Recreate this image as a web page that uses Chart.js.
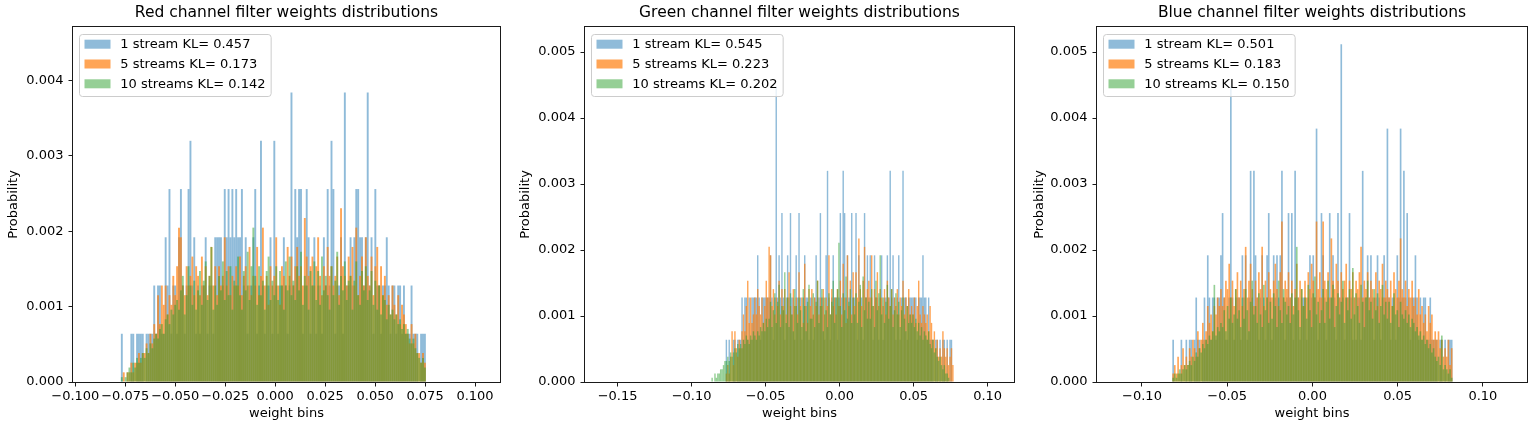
<!DOCTYPE html>
<html>
<head>
<meta charset="utf-8">
<title>Filter weights distributions</title>
<script src="https://cdn.jsdelivr.net/npm/chart.js"></script>
<style>
  html, body { margin: 0; padding: 0; background: #fff; }
  #figure { position: relative; width: 1535px; height: 425px; }
  #figure canvas { position: absolute; top: 0; }
</style>
</head>
<body>
<div id="figure">
  <canvas id="red" width="512" height="425" style="left:0px"></canvas>
  <canvas id="green" width="512" height="425" style="left:512px"></canvas>
  <canvas id="blue" width="512" height="425" style="left:1023px"></canvas>
</div>
<script>
// Probability carried by one weight in a bin, for 1, 5 and 10 streams
const countWeight = [0.00064, 0.000128, 0.000064];
const seriesColors = ['rgba(31,119,180,0.5)', 'rgba(255,127,14,0.7)', 'rgba(44,160,44,0.5)'];

//
// RED CHANNEL
//
const redRange = [-0.0772, 0.0754];
const redXLim = [-0.10115, 0.1125];
const redYMax = 0.00471;
const redLabels = ['1 stream KL= 0.457', '5 streams KL= 0.173', '10 streams KL= 0.142'];
const red1 = [1,0,0,0,0,1,1,0,1,1, 1,1,0,1,1,1,1,2,1,2, 2,1,1,3,2,4,1,2,2,1, 3,4,2,1,2,4,5,2,3,1,
  2,1,2,2,3,1,2,2,1,3, 3,3,3,2,4,3,4,3,4,3, 4,3,3,4,2,3,1,2,2,3, 4,1,2,5,2,1,2,2,3,1,
  5,2,1,2,2,3,2,1,2,6, 2,4,3,4,4,1,2,4,3,1, 2,3,1,2,2,1,3,2,4,2, 5,4,1,2,2,3,1,6,2,2,
  3,2,3,4,4,3,3,2,3,6, 2,3,1,4,2,2,1,2,2,3, 2,1,2,2,1,2,2,1,2,1, 1,1,2,1,1,1,0,1,1,1];
const red5 = [0,1,0,1,1,2,1,2,2,3, 2,3,3,4,3,5,4,6,5,9, 6,10,8,10,7,9,8,11,9,12, 16,15,10,9,12,10,11,13,9,12,
  11,9,13,10,12,9,11,14,10,12, 9,12,10,11,15,10,12,9,11,10, 12,10,13,9,11,12,10,14,9,11, 10,14,9,11,16,10,11,8,12,10,
  11,15,10,8,12,11,10,14,11,13, 10,12,14,11,12,10,17,13,11,12, 13,10,12,15,11,9,12,10,14,11, 12,10,11,13,9,18,12,11,10,13,
  11,14,10,16,9,11,13,10,15,11, 10,13,9,12,14,10,12,9,11,8, 9,7,10,8,7,9,6,8,7,6, 5,4,6,4,5,3,3,2,3,2];
const red10 = [1,0,1,2,3,2,4,3,5,4, 5,6,5,7,6,8,7,9,10,9, 11,12,10,13,14,12,15,14,16,17, 15,19,22,14,18,24,20,16,21,15,
  19,23,16,21,25,17,22,28,15,20, 16,22,19,25,17,23,18,24,15,21, 20,26,18,15,23,19,27,17,24,32, 22,16,24,18,21,15,23,26,17,21,
  18,24,17,23,20,15,25,19,26,18, 21,17,24,19,27,16,22,20,15,23, 20,25,17,23,16,26,19,22,18,15, 24,18,21,27,16,22,19,25,17,21,
  22,15,21,25,18,16,23,19,24,17, 19,23,16,21,15,20,14,18,17,13, 16,14,15,13,14,12,13,11,12,10, 11,9,8,9,7,6,5,4,5,3];

//
// GREEN CHANNEL
//
const greenRange = [-0.0866, 0.0770];
const greenXLim = [-0.172, 0.1178];
const greenYMax = 0.00538;
const greenLabels = ['1 stream KL= 0.545', '5 streams KL= 0.223', '10 streams KL= 0.202'];
const green1 = [0,0,0,0,0,0,0,0,0,0, 1,0,1,0,0,1,1,0,1,1, 1,2,1,2,2,1,2,1,2,2, 2,2,3,2,1,2,2,2,2,2,
  2,3,2,1,2,7,2,3,2,4, 2,1,2,3,2,4,2,2,1,3, 2,4,2,1,2,3,2,2,1,2, 2,1,2,3,2,2,4,2,2,1,
  3,5,2,1,2,3,2,2,1,2, 4,2,5,4,2,3,2,2,4,2, 2,4,1,3,2,2,1,4,2,3, 2,3,2,1,3,2,2,1,2,3,
  1,2,2,3,2,5,2,3,2,1, 2,3,1,2,5,2,2,1,2,2, 2,2,2,2,1,2,2,2,3,2, 2,1,2,1,1,1,0,1,1,0,
  1,0,1,1,0,1,0,1,1,0];
const green5 = [0,0,0,0,0,0,0,0,0,0, 1,2,1,3,6,2,6,4,3,5, 4,6,8,6,9,12,7,10,7,8, 10,8,11,9,8,10,7,9,12,10,
  16,15,9,11,8,10,9,12,8,11, 9,11,8,10,13,9,8,11,9,10, 8,13,9,10,7,14,9,7,11,9, 11,8,10,9,12,8,10,9,11,8,
  10,9,15,8,11,9,10,8,11,9, 12,8,14,10,7,15,9,12,8,13, 9,13,10,17,11,9,12,16,10,11, 12,10,15,9,11,10,13,9,11,10,
  9,11,8,12,10,9,11,8,10,9, 11,8,10,9,12,8,10,9,11,8, 9,8,10,7,9,12,8,7,9,8, 7,8,6,9,7,5,6,4,5,3,
  4,3,6,4,3,4,2,3,4,2];
const green10 = [1,0,2,1,2,2,3,3,4,5, 5,6,5,7,6,7,8,7,9,8, 9,8,10,9,11,10,9,11,10,12, 11,10,12,11,13,12,14,12,15,13,
  15,19,13,17,21,14,19,23,13,18, 17,26,14,20,13,21,16,12,22,18, 14,20,17,13,22,18,12,19,23,15, 15,21,13,19,24,14,18,22,12,20,
  17,13,21,16,19,24,14,20,22,33, 18,13,21,17,25,15,19,22,14,20, 16,21,14,19,23,13,25,17,20,15, 19,15,22,18,13,24,17,21,30,16,
  20,14,19,23,15,18,22,13,17,21, 16,19,13,17,20,15,12,18,14,16, 14,16,13,15,12,14,11,13,10,12, 11,10,12,9,8,10,7,8,6,5,
  6,4,3,4,2,2,1,0,0,0];

//
// BLUE CHANNEL
//
const blueRange = [-0.0822, 0.0822];
const blueXLim = [-0.1264, 0.1259];
const blueYMax = 0.00538;
const blueLabels = ['1 stream KL= 0.501', '5 streams KL= 0.183', '10 streams KL= 0.150'];
const blue1 = [1,0,0,0,0,1,0,0,1,0, 1,1,0,1,2,1,1,0,1,2, 1,3,2,1,2,2,1,2,2,3, 4,2,1,1,2,7,2,1,2,2,
  2,1,3,2,3,1,2,5,2,5, 3,2,1,2,3,2,1,3,4,2, 1,3,2,3,2,3,5,2,1,2, 4,2,4,1,5,2,2,1,2,2,
  2,1,2,3,2,3,2,6,1,2, 4,3,2,1,2,4,2,3,2,1, 4,2,8,2,1,2,2,4,2,1, 2,1,2,2,1,5,2,2,3,2,
  3,2,1,2,3,2,1,2,3,2, 6,2,1,2,2,1,3,2,6,2, 5,2,4,2,1,2,2,3,2,1, 2,1,2,2,1,1,2,1,1,1,
  1,0,1,1,0,1,0,1,1,1];
const blue5 = [1,2,1,3,1,2,4,2,3,2, 4,3,5,4,3,6,4,5,7,5, 6,9,7,8,6,9,8,10,9,11, 9,10,12,11,14,10,12,9,11,13,
  10,12,9,11,16,10,12,14,11,9, 12,10,13,11,16,9,12,10,13,11, 10,12,14,11,9,13,19,10,12,11, 13,10,12,9,11,14,10,12,11,9,
  12,10,13,11,14,12,10,19,11,13, 10,19,12,11,13,10,17,12,11,14, 12,10,13,11,12,14,10,12,11,13, 10,12,11,13,16,10,12,11,13,10,
  12,11,10,13,9,12,11,14,10,12, 11,10,12,9,13,11,10,12,17,11, 10,12,9,11,10,12,9,10,8,11, 8,9,7,8,6,9,7,8,5,6,
  5,6,4,5,3,4,3,5,2,4];
const blue10 = [1,2,1,2,3,2,3,4,3,4, 5,4,6,5,7,6,8,7,9,8, 10,9,11,10,12,23,11,13,12,14, 13,17,12,18,15,20,14,16,22,15,
  17,13,20,15,22,17,12,19,24,16, 18,14,21,16,13,23,17,20,14,19, 15,21,18,13,24,17,14,22,19,16, 18,14,21,16,20,32,17,13,22,18,
  20,15,23,17,13,21,25,16,19,14, 17,22,14,19,24,15,20,23,13,18, 21,16,19,24,14,20,17,22,15,27, 16,21,18,14,23,19,13,20,24,17,
  19,15,22,17,21,14,18,23,16,19, 15,19,14,18,21,16,17,13,19,16, 15,17,14,16,13,15,14,12,13,11, 12,10,11,9,10,8,9,7,8,6,
  5,6,4,11,3,4,3,2,3,1];

Chart.defaults.font.family = '"DejaVu Sans", sans-serif';
Chart.defaults.color = '#000';

function binCenters(range, n) {
  const w = (range[1] - range[0]) / n;
  const centers = [];
  for (let i = 0; i < n; i++) centers.push(range[0] + (i + 0.5) * w);
  return centers;
}

function fmt(v, digits) {
  return (v < -1e-9 ? '\u2212' : '') + Math.abs(v).toFixed(digits);
}

// spines and the matplotlib-like legend box, drawn over the bars
const axesFrame = {
  id: 'axesFrame',
  afterDatasetsDraw(chart) {
    const {ctx, chartArea: area} = chart;
    const sets = chart.data.datasets;
    ctx.save();
    ctx.strokeStyle = '#1a1a1a';
    ctx.lineWidth = 1;
    ctx.strokeRect(area.left - 0.5, area.top - 0.5, area.right - area.left + 1, area.bottom - area.top + 1);

    ctx.font = '13px "DejaVu Sans"';
    const textWidth = Math.max(...sets.map(s => ctx.measureText(s.label).width));
    ctx.beginPath();
    ctx.roundRect(area.left + 6.5, area.top + 7.5, 40.5 + textWidth + 6, 62, 3);
    ctx.fillStyle = 'rgba(255,255,255,0.8)';
    ctx.fill();
    ctx.strokeStyle = '#cccccc';
    ctx.stroke();
    ctx.textBaseline = 'middle';
    sets.forEach((s, k) => {
      const cy = area.top + 17.2 + k * 19.8;
      ctx.fillStyle = s.backgroundColor;
      ctx.fillRect(area.left + 11.5, cy - 4.5, 26, 9);
      ctx.fillStyle = '#000';
      ctx.fillText(s.label, area.left + 47.3, cy + 0.5);
    });
    ctx.restore();
  }
};

function tickGrid() {
  return { display: true, drawOnChartArea: false, drawTicks: true, tickLength: 4.5, tickColor: '#1a1a1a', lineWidth: 1, offset: false };
}

function drawPanel(id, title, range, counts, labels, xLim, xStep, xDigits, yMax, yWidth, rightPad, yTitlePad) {
  new Chart(document.getElementById(id), {
    type: 'bar',
    data: {
      labels: binCenters(range, counts[0].length),
      datasets: counts.map((c, k) => ({
        label: labels[k],
        data: c.map(n => n * countWeight[k]),
        backgroundColor: seriesColors[k],
        borderWidth: 0,
        inflateAmount: 0,
        grouped: false,
        order: 3 - k,
        barPercentage: 1,
        categoryPercentage: 1
      }))
    },
    options: {
      responsive: false,
      animation: false,
      events: [],
      layout: { padding: { left: 0, right: rightPad, top: 0, bottom: 0 } },
      plugins: {
        legend: { display: false },
        tooltip: { enabled: false },
        title: {
          display: true,
          text: title,
          fullSize: false,
          color: '#000',
          font: { size: 15.5, weight: 'normal' },
          padding: { top: 4, bottom: 4.4 }
        }
      },
      scales: {
        x: {
          type: 'linear',
          min: xLim[0],
          max: xLim[1],
          offset: false,
          grid: tickGrid(),
          border: { display: false },
          ticks: {
            stepSize: xStep, includeBounds: false, autoSkip: false, maxRotation: 0, minRotation: 0,
            padding: 2.4, color: '#000', font: { size: 13 },
            callback: v => fmt(v, xDigits)
          },
          title: { display: true, text: 'weight bins', color: '#000', font: { size: 13 }, padding: { top: 0, bottom: 3.2 } },
          afterFit: s => { s.height = 43; }
        },
        y: {
          min: 0,
          max: yMax,
          grid: tickGrid(),
          border: { display: false },
          ticks: {
            stepSize: 0.001, includeBounds: false, padding: 5, color: '#000', font: { size: 13 },
            callback: v => fmt(v, 3)
          },
          title: { display: true, text: 'Probability', color: '#000', font: { size: 13 }, padding: { top: yTitlePad, bottom: 0 } },
          afterFit: s => { s.width = yWidth; }
        }
      }
    },
    plugins: [axesFrame]
  });
}

drawPanel('red', 'Red channel filter weights distributions', redRange, [red1, red5, red10], redLabels,
  redXLim, 0.025, 3, redYMax, 73, 12, 5.5);
drawPanel('green', 'Green channel filter weights distributions', greenRange, [green1, green5, green10], greenLabels,
  greenXLim, 0.05, 2, greenYMax, 73, 10, 6.2);
drawPanel('blue', 'Blue channel filter weights distributions', blueRange, [blue1, blue5, blue10], blueLabels,
  blueXLim, 0.05, 2, blueYMax, 74, 8, 8.9);
</script>
</body>
</html>
